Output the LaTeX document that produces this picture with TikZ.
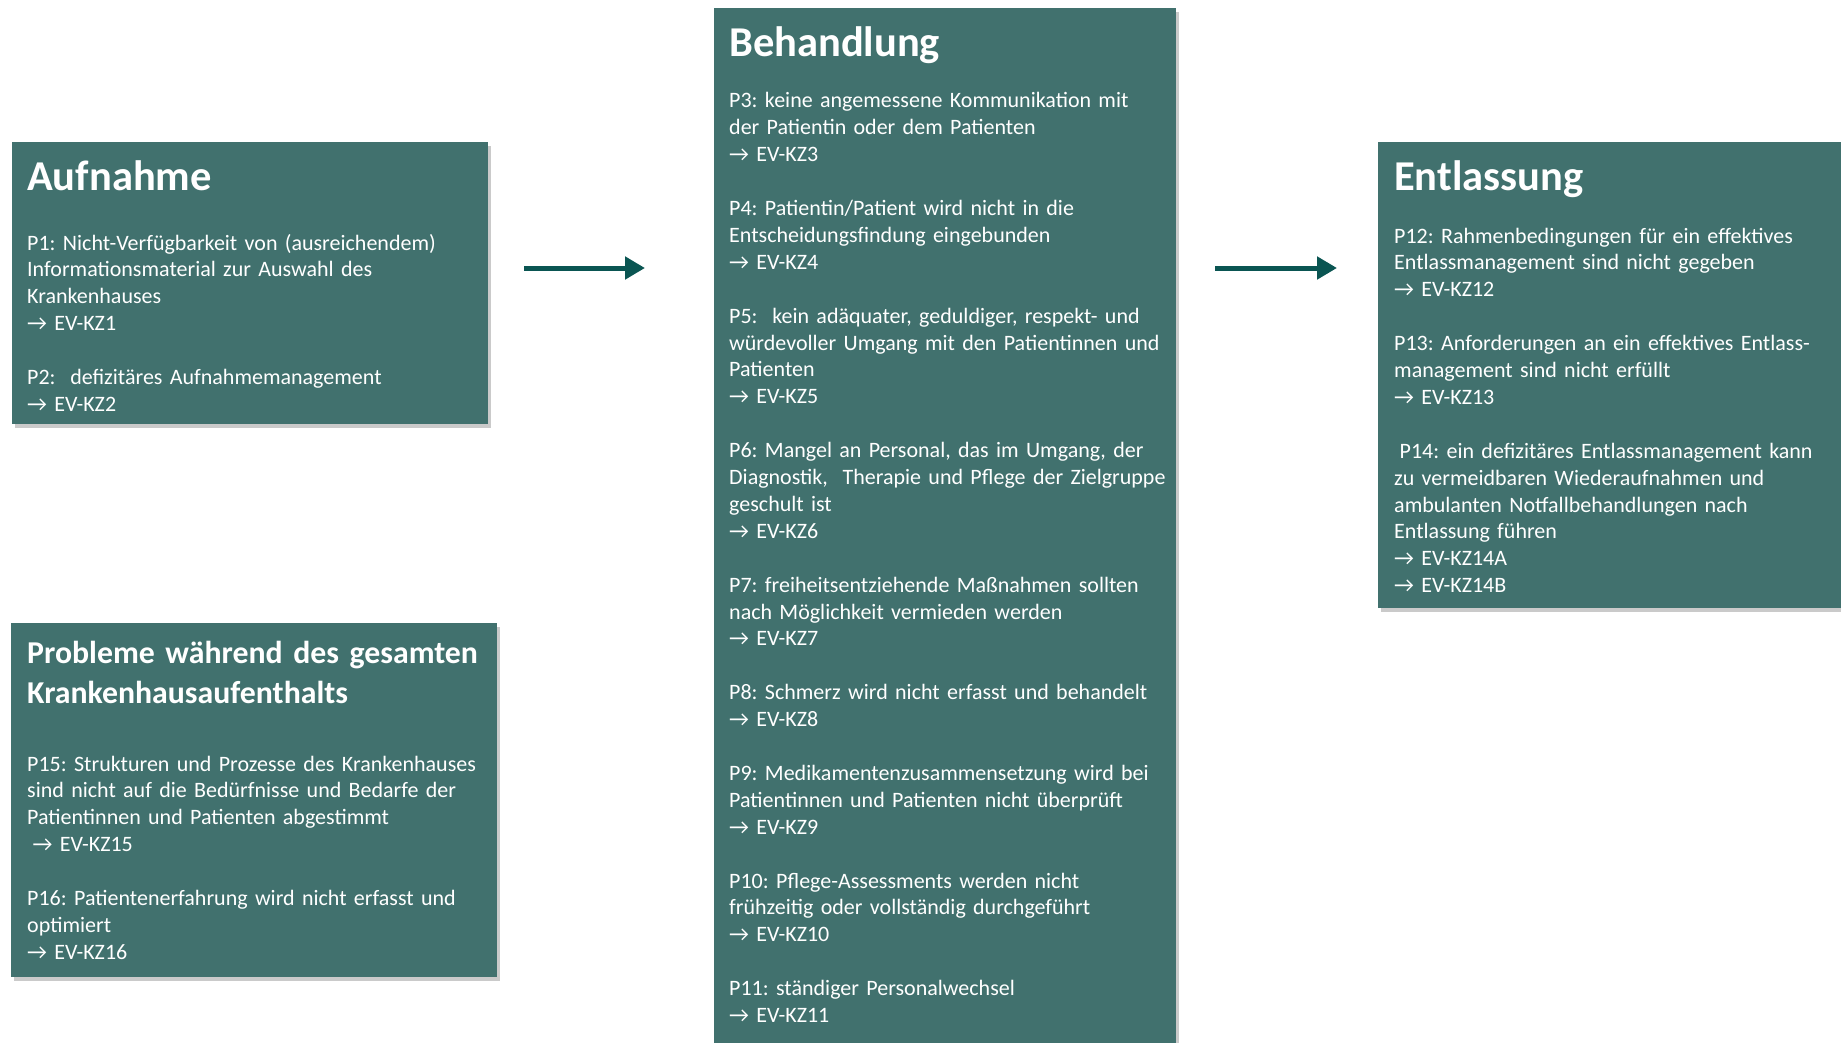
\documentclass[tikz,border=0pt]{standalone}
\usepackage{fontspec}
\setmainfont{Carlito}
\usetikzlibrary{shadows,arrows.meta}
\definecolor{boxfill}{RGB}{65,113,110}
\definecolor{arrowc}{RGB}{10,85,82}
\newcommand{\pgap}{\\[\baselineskip]}
\frenchspacing
\begin{document}
\begin{tikzpicture}[x=1pt,y=-1pt,
  panel/.style={draw=none, fill=boxfill, inner sep=0pt, outer sep=0pt, anchor=north west,
    drop shadow={shadow xshift=3pt, shadow yshift=-4pt, opacity=0.35, fill=black!60}},
  ttl/.style={anchor=base west, inner sep=0pt, text=white, font=\fontsize{42.5}{50}\selectfont\bfseries, text width=600pt, align=left},
  ttlsmall/.style={ttl, font=\fontsize{31.8}{40}\selectfont\bfseries},
  body/.style={anchor=base west, inner sep=0pt, text=white, font=\fontsize{22}{26.9}\selectfont, text width=600pt, align=left},
  flow/.style={draw=arrowc, line width=5pt, -{Triangle[length=20pt,width=22pt]}}]
\useasboundingbox (0,0) rectangle (1841,1043);

% panels
\node[panel, minimum width=476pt, minimum height=282pt] (auf) at (12,142) {};
\node[panel, minimum width=462pt, minimum height=1040pt] (beh) at (714,8) {};
\node[panel, minimum width=470pt, minimum height=466pt] (ent) at (1378,142) {};
\node[panel, minimum width=486pt, minimum height=354pt] (prob) at (11,623) {};

% Aufnahme
\node[ttl] (aufT) at (27,191) {Aufnahme};
\node[body] (aufB) at (27,250) {P1: Nicht-Verfügbarkeit von (ausreichendem)\\
Informationsmaterial zur Auswahl des\\
Krankenhauses\\
→ EV-KZ1\pgap
P2:\ \ defizitäres Aufnahmemanagement\\
→ EV-KZ2};

% Behandlung
\node[ttl] (behT) at (729,57) {Behandlung};
\node[body] (behB) at (729,108) {P3: keine angemessene Kommunikation mit\\
der Patientin oder dem Patienten\\
→ EV-KZ3\pgap
P4: Patientin/Patient wird nicht in die\\
Entscheidungsfindung eingebunden\\
→ EV-KZ4\pgap
P5:\ \ kein adäquater, geduldiger, respekt- und\\
würdevoller Umgang mit den Patientinnen und\\
Patienten\\
→ EV-KZ5\pgap
P6: Mangel an Personal, das im Umgang, der\\
Diagnostik,\ \ Therapie und Pflege der Zielgruppe\\
geschult ist\\
→ EV-KZ6\pgap
P7: freiheitsentziehende Maßnahmen sollten\\
nach Möglichkeit vermieden werden\\
→ EV-KZ7\pgap
P8: Schmerz wird nicht erfasst und behandelt\\
→ EV-KZ8\pgap
P9: Medikamentenzusammensetzung wird bei\\
Patientinnen und Patienten nicht überprüft\\
→ EV-KZ9\pgap
P10: Pflege-Assessments werden nicht\\
frühzeitig oder vollständig durchgeführt\\
→ EV-KZ10\pgap
P11: ständiger Personalwechsel\\
→ EV-KZ11};

% Entlassung
\node[ttl] (entT) at (1394,191) {Entlassung};
\node[body] (entB) at (1394,243) {P12: Rahmenbedingungen für ein effektives\\
Entlassmanagement sind nicht gegeben\\
→ EV-KZ12\pgap
P13: Anforderungen an ein effektives Entlass-\\
management sind nicht erfüllt\\
→ EV-KZ13\pgap
\hspace*{0.25em}P14: ein defizitäres Entlassmanagement kann\\
zu vermeidbaren Wiederaufnahmen und\\
ambulanten Notfallbehandlungen nach\\
Entlassung führen\\
→ EV-KZ14A\\
→ EV-KZ14B};

% Probleme
\node[ttlsmall] (probT) at (27,663) {Probleme während des gesamten\\
Krankenhausaufenthalts};
\node[body] (probB) at (27,771) {P15: Strukturen und Prozesse des Krankenhauses\\
sind nicht auf die Bedürfnisse und Bedarfe der\\
Patientinnen und Patienten abgestimmt\\
\hspace*{0.25em}→ EV-KZ15\pgap
P16: Patientenerfahrung wird nicht erfasst und\\
optimiert\\
→ EV-KZ16};

% flow arrows
\coordinate (a1s) at (524,268);
\coordinate (a1e) at (645,268);
\coordinate (a2s) at (1215,268);
\coordinate (a2e) at (1337,268);
\draw[flow] (a1s) -- (a1e);
\draw[flow] (a2s) -- (a2e);
\end{tikzpicture}
\end{document}
